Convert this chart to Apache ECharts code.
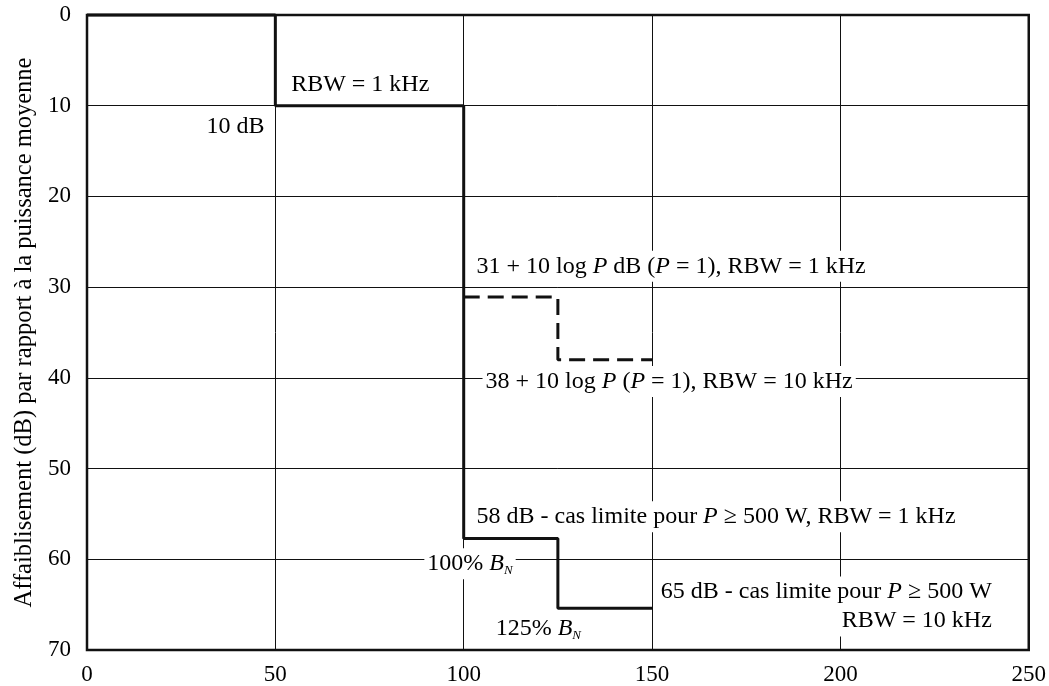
<!DOCTYPE html>
<html>
<head>
<meta charset="utf-8">
<script src="https://cdn.jsdelivr.net/npm/echarts@6/dist/echarts.min.js"></script>
<style>
html,body{margin:0;padding:0;background:#fff;}
#chart{width:1049px;height:686px;}
</style>
</head>
<body>
<div id="chart"></div>
<script>
// ---- Data ----
const xTicks = [0, 50, 100, 150, 200, 250];
const yTicks = [0, 10, 20, 30, 40, 50, 60, 70];
const yAxisTitle = 'Affaiblisement (dB) par rapport à la puissance moyenne';

// solid mask (step corners)
const solidX = [0, 50, 50, 100, 100, 125, 125, 150];
const solidY = [0, 0, 10, 10, 57.7, 57.7, 65.4, 65.4];

// dashed mask (step corners)
const dashX = [100, 125, 125, 150];
const dashY = [31.1, 31.1, 38, 38];

// annotation texts and their anchor points (data coords)
const noteTexts = [
  'RBW = 1 kHz',
  '10 dB',
  '31 + 10 log {i|P} dB ({i|P} = 1), RBW = 1 kHz',
  '38 + 10 log {i|P} ({i|P} = 1), RBW = 10 kHz',
  '58 dB - cas limite pour {i|P} ≥ 500 W, RBW = 1 kHz',
  '100% {i|B}{sub|N}',
  '125% {i|B}{sub|N}',
  '65 dB - cas limite pour {i|P} ≥ 500 W\nRBW = 10 kHz'
];
const noteX = [54.2, 47.1, 102.6, 105.0, 102.6, 113.8, 108.5, 241.0];
const noteY = [7.7, 12.3, 27.7, 40.4, 55.3, 60.5, 67.7, 65.2];
const noteAlign = ['left', 'right', 'left', 'left', 'left', 'right', 'left', 'right'];
const noteBoxed = [false, false, true, true, true, true, false, true];

// ---- Chart ----
const FONT = "'Liberation Serif', 'DejaVu Serif', serif";
const INK = '#000';
const chart = echarts.init(document.getElementById('chart'));

const richStyles = {
  i: { fontFamily: FONT, fontSize: 24, fontStyle: 'italic', color: INK, lineHeight: 29 },
  sub: { fontFamily: FONT, fontSize: 13, fontStyle: 'italic', color: INK, padding: [13, 0, 0, 0] }
};

const notes = noteTexts.map((t, k) => ({
  value: [noteX[k], noteY[k]],
  label: {
    show: true,
    position: 'inside',
    formatter: t,
    align: noteAlign[k],
    verticalAlign: 'middle',
    fontFamily: FONT,
    fontSize: 24,
    lineHeight: 29,
    color: INK,
    backgroundColor: noteBoxed[k] ? '#fff' : 'transparent',
    padding: noteBoxed[k] ? [1, 3, 1, 3] : 0,
    rich: richStyles
  }
}));

chart.setOption({
  animation: false,
  backgroundColor: '#fff',
  grid: {
    left: 87, right: 17, top: 15, bottom: 35,
    show: true, borderColor: '#111', borderWidth: 2.5, backgroundColor: 'transparent'
  },
  xAxis: {
    type: 'value', min: xTicks[0], max: xTicks[xTicks.length - 1], interval: 50,
    axisLine: { show: false }, axisTick: { show: false },
    axisLabel: { fontFamily: FONT, fontSize: 23, color: INK, margin: 13 },
    splitLine: { show: true, lineStyle: { color: '#111', width: 1 } }
  },
  yAxis: {
    type: 'value', min: yTicks[0], max: yTicks[yTicks.length - 1], interval: 10, inverse: true,
    name: yAxisTitle, nameLocation: 'middle', nameGap: 42,
    nameTextStyle: { fontFamily: FONT, fontSize: 24.5, color: INK },
    axisLine: { show: false }, axisTick: { show: false },
    axisLabel: { fontFamily: FONT, fontSize: 23, color: INK, margin: 16 },
    splitLine: { show: true, lineStyle: { color: '#111', width: 1 } }
  },
  series: [
    {
      type: 'line', symbol: 'none', clip: false, z: 3,
      data: solidX.map((x, k) => [x, solidY[k]]),
      lineStyle: { color: '#111', width: 3 }
    },
    {
      type: 'line', symbol: 'none', clip: false, z: 3,
      data: dashX.map((x, k) => [x, dashY[k]]),
      lineStyle: { color: '#111', width: 3, type: [16, 8] }
    },
    {
      type: 'scatter', symbolSize: 0, z: 5, silent: true,
      itemStyle: { opacity: 1 },
      data: notes
    }
  ]
});
</script>
</body>
</html>
